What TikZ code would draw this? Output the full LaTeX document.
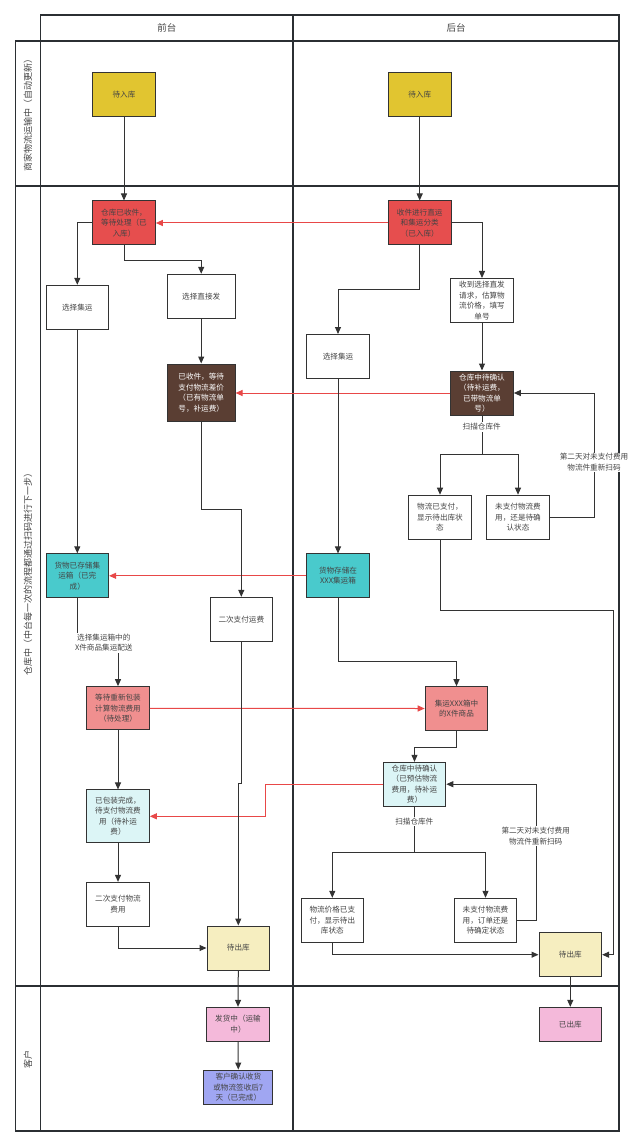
\documentclass[tikz,border=0pt]{standalone}
\usepackage{fontspec}
\setmainfont{Noto Sans CJK SC}
\usetikzlibrary{arrows.meta}
\definecolor{linec}{HTML}{333333}
\definecolor{framec}{HTML}{2B2F33}
\definecolor{txt}{HTML}{444444}
\definecolor{cyellow}{HTML}{E1C530}
\definecolor{cred}{HTML}{E64E4E}
\definecolor{cbrown}{HTML}{5A3E33}
\definecolor{ccyan}{HTML}{49CACC}
\definecolor{csalmon}{HTML}{F08F8F}
\definecolor{clcyan}{HTML}{DCF5F6}
\definecolor{cbeige}{HTML}{F6EEC0}
\definecolor{cpink}{HTML}{F4B9DA}
\definecolor{clav}{HTML}{A0A6F2}
\definecolor{redline}{HTML}{E84848}
\begin{document}
\begin{tikzpicture}[x=1pt,y=-1pt,
  box/.style={draw=linec, line width=1pt, minimum width=62.6pt, minimum height=44pt,
    inner sep=1pt, align=center, font=\fontsize{7.6}{10.5}\selectfont, text=txt},
  arr/.style={draw=linec, line width=1pt, -{Triangle[length=7pt,width=6pt]}},
  redarr/.style={draw=redline, line width=1pt, -{Triangle[length=7pt,width=6pt]}},
  lbl/.style={fill=white, inner sep=1pt, align=center, font=\fontsize{7.6}{10.5}\selectfont, text=txt},
  lane/.style={draw=framec, line width=1.3pt},
  lanetxt/.style={font=\fontsize{9}{11}\selectfont, text=txt, rotate=90}
]
\useasboundingbox (0,0) rectangle (640,1147);
\fill[white] (0,0) rectangle (640,1147);
% frame
\draw[lane] (40.7,15) rectangle (619,41);
\draw[lane] (293,15) -- (293,41);
\draw[lane] (15.7,41) rectangle (619,186);
\draw[lane] (15.7,186) rectangle (619,986);
\draw[lane] (15.7,986) rectangle (619,1131);
\draw[lane] (40.7,41) -- (40.7,1131);
\draw[lane] (293,41) -- (293,1131);
\node[font=\fontsize{9.5}{11}\selectfont, text=txt] (h1) at (166.8,28) {前台};
\node[font=\fontsize{9.5}{11}\selectfont, text=txt] (h2) at (456,28) {后台};
\node[lanetxt] (l1) at (28,113.5) {商家物流运输中（自动更新）};
\node[lanetxt] (l2) at (28,572) {仓库中（中台每一次的流程都通过扫码进行下一步）};
\node[lanetxt] (l3) at (28,1059) {客户};

% nodes lane 1
\node[box, fill=cyellow] (inL) at (124,95) {待入库};
\node[box, fill=cyellow] (inR) at (419.7,95) {待入库};

% lane 2 left
\node[box, fill=cred] (wr) at (124,223) {仓库已收件，\\等待处理（已\\入库）};
\node[box] (selL) at (77.3,307.3) {选择集运};
\node[box, minimum width=67.7pt] (direct) at (201.2,296.3) {选择直接发};
\node[box, fill=cbrown, text=white, minimum width=67.7pt, minimum height=57pt] (brownL) at (201.2,392.5) {已收件，等待\\支付物流差价\\（已有物流单\\号，补运费）};
\node[box, fill=ccyan] (cyanL) at (77.3,575.8) {货物已存储集\\运箱（已完\\成）};
\node[box, minimum height=43.7pt] (pay2) at (241.3,619.2) {二次支付运费};
\node[box, fill=csalmon, minimum height=43.3pt] (repack) at (118,708.3) {等待重新包装\\计算物流费用\\（待处理）};
\node[box, fill=clcyan, minimum height=52.7pt] (packed) at (118,816.3) {已包装完成，\\待支付物流费\\用（待补运\\费）};
\node[box, minimum height=43.7pt] (pay3) at (118,904.2) {二次支付物流\\费用};
\node[box, fill=cbeige, minimum height=44pt] (outL) at (238.3,948) {待出库};

% lane 2 right
\node[box, fill=cred] (sort) at (419.7,223) {收件进行直运\\和集运分类\\（已入库）};
\node[box] (req) at (482,300.5) {收到选择直发\\请求，估算物\\流价格，填写\\单号};
\node[box] (selR) at (338,356.5) {选择集运};
\node[box, fill=cbrown, text=white] (brownR) at (482,393) {仓库中待确认\\（待补运费，\\已带物流单\\号）};
\node[box] (paid1) at (440,517.2) {物流已支付，\\显示待出库状\\态};
\node[box] (unpaid1) at (518,517.2) {未支付物流费\\用，还是待确\\认状态};
\node[box, fill=ccyan, minimum height=43.7pt] (cyanR) at (338,575.8) {货物存储在\\XXX集运箱};
\node[box, fill=csalmon, minimum height=43.6pt] (xxx) at (456.5,708.5) {集运XXX箱中\\的X件商品};
\node[box, fill=clcyan, minimum height=43.7pt] (conf2) at (414.5,784.2) {仓库中待确认\\（已预估物流\\费用，待补运\\费）};
\node[box] (paid2) at (332.3,920.3) {物流价格已支\\付，显示待出\\库状态};
\node[box] (unpaid2) at (485.5,920.3) {未支付物流费\\用，订单还是\\待确定状态};
\node[box, fill=cbeige] (outR) at (570.3,954.7) {待出库};

% lane 3
\node[box, fill=cpink, minimum height=33.7pt] (ship) at (238,1024.2) {发货中（运输\\中）};
\node[box, fill=clav, minimum width=68.7pt, minimum height=34.3pt] (done) at (238.3,1087.2) {客户确认收货\\或物流签收后7\\天（已完成）};
\node[box, fill=cpink, minimum height=33.7pt] (outed) at (570.3,1024.2) {已出库};

% edges
\draw[arr] (inL.south) -- (wr.north);
\draw[arr] (inR.south) -- (sort.north);
\draw[arr] (wr.west) -| (selL.north);
\draw[arr] (wr.south) -- ++(0,15) -| (direct.north);
\draw[arr] (direct.south) -- (brownL.north);
\draw[redarr] (sort.west) -- (wr.east);
\draw[arr] (sort.east) -| (req.north);
\draw[arr] (sort.south) -- ++(0,44.3) -| (selR.north);
\draw[arr] (req.south) -- (brownR.north);
\draw[redarr] (brownR.west) -- (brownL.east |- brownR.west);
\draw[arr] (brownR.south) -- ++(0,39) -| (paid1.north);
\draw[arr] (brownR.south) -- ++(0,39) -| (unpaid1.north);
\draw[arr] (unpaid1.east) -- ++(45,0) |- (brownR.east);
\draw[arr] (paid1.south) -- ++(0,71) -- ++(173,0) |- (outR.east);
\draw[arr] (selL.south) -- (cyanL.north);
\draw[arr] (selR.south) -- (cyanR.north);
\draw[redarr] (cyanR.west) -- (cyanL.east);
\draw[arr] (brownL.south) -- ++(0,88) -| (pay2.north);
\draw[arr] (cyanL.south) -- ++(0,46) -| (repack.north);
\draw[arr] (repack.south) -- (packed.north);
\draw[redarr] (repack.east) -- (xxx.west);
\draw[arr] (cyanR.south) -- ++(0,63.3) -| (xxx.north);
\draw[arr] (xxx.south) -- ++(0,16.4) -| (conf2.north);
\draw[redarr] (conf2.west) -- ++(-117,0) |- (packed.east);
\draw[arr] (packed.south) -- (pay3.north);
\draw[arr] (pay3.south) |- (outL.west);
\draw[arr] (pay2.south) -- ++(0,142) -- ++(-3,0) -- (outL.north);
\draw[arr] (conf2.south) -- ++(0,46) -| (paid2.north);
\draw[arr] (conf2.south) -- ++(0,46) -| (unpaid2.north);
\draw[arr] (unpaid2.east) -- ++(18.7,0) |- (conf2.east);
\draw[arr] (paid2.south) |- (outR.west);
\draw[arr] (outL.south) -- (ship.north);
\draw[arr] (ship.south) -- (done.north);
\draw[arr] (outR.south) -- (outed.north);

% edge labels
\node[lbl] (t1) at (481.7,427) {扫描仓库件};
\node[lbl] (t2) at (594,462.3) {第二天对未支付费用\\物流件重新扫码};
\node[lbl] (t3) at (103.8,642.8) {选择集运箱中的\\X件商品集运配送};
\node[lbl] (t4) at (414.3,821.7) {扫描仓库件};
\node[lbl] (t5) at (535.7,836) {第二天对未支付费用\\物流件重新扫码};
\end{tikzpicture}
\end{document}
